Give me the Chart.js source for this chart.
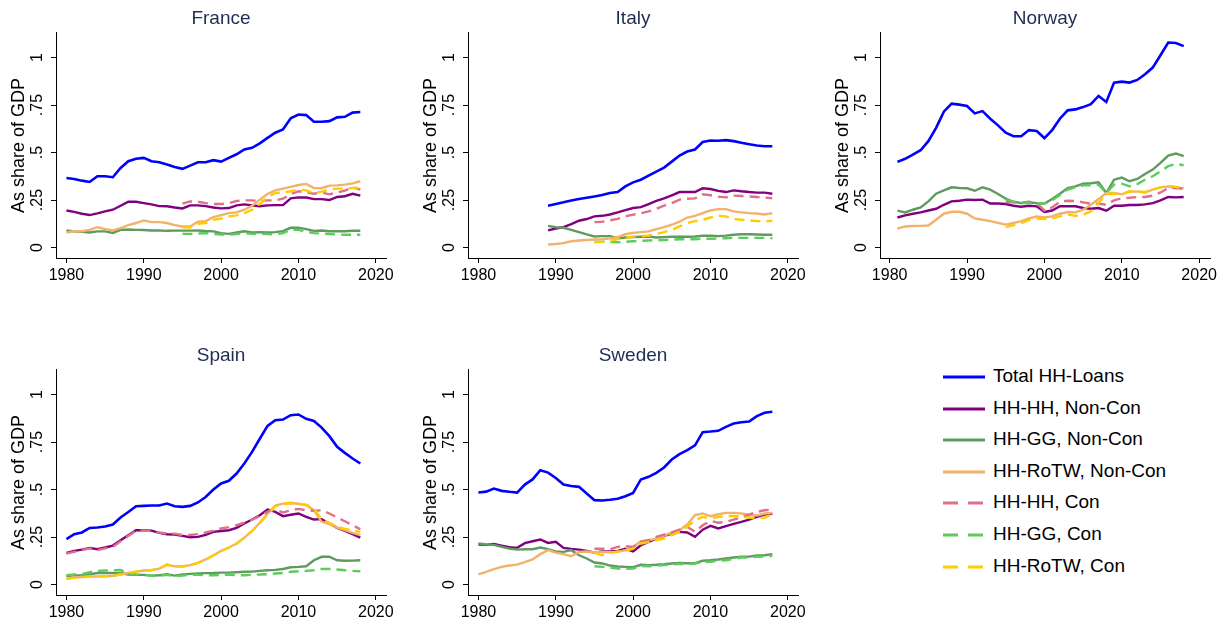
<!DOCTYPE html>
<html>
<head>
<meta charset="utf-8">
<script src="https://cdn.jsdelivr.net/npm/chart.js@4.4.1/dist/chart.umd.min.js"></script>
<style>
  body { margin: 0; background: #fff; width: 1228px; height: 623px; position: relative; overflow: hidden; font-family: "Liberation Sans", Arial, sans-serif; }
  canvas { position: absolute; }
  #legend { position: absolute; left: 943px; top: 361px; }
  .row { position: absolute; left: 0; height: 32px; width: 280px; }
  .row svg { position: absolute; left: 0; top: 13px; }
  .row span { position: absolute; left: 50px; top: 4px; font-size: 19px; color: #000; white-space: nowrap; }
</style>
</head>
<body>
<canvas id="franceChart" width="400" height="290" style="left:0px;top:0px"></canvas>
<canvas id="italyChart" width="400" height="290" style="left:412px;top:0px"></canvas>
<canvas id="norwayChart" width="400" height="290" style="left:824px;top:0px"></canvas>
<canvas id="spainChart" width="400" height="290" style="left:0px;top:337px"></canvas>
<canvas id="swedenChart" width="400" height="290" style="left:412px;top:337px"></canvas>
<div id="legend"></div>
<script>
// Anos
const years = [1980,1981,1982,1983,1984,1985,1986,1987,1988,1989,1990,1991,1992,1993,1994,1995,1996,1997,1998,1999,
  2000,2001,2002,2003,2004,2005,2006,2007,2008,2009,2010,2011,2012,2013,2014,2015,2016,2017,2018];
const yearsItaly = [1989,1990,1991,1992,1993,1994,1995,1996,1997,1998,1999,
  2000,2001,2002,2003,2004,2005,2006,2007,2008,2009,2010,2011,2012,2013,2014,2015,2016,2017,2018];
const yearsNorway = [1981,1982,1983,1984,1985,1986,1987,1988,1989,1990,1991,1992,1993,1994,1995,1996,1997,1998,1999,
  2000,2001,2002,2003,2004,2005,2006,2007,2008,2009,2010,2011,2012,2013,2014,2015,2016,2017,2018];
const yearsCon = [1995,1996,1997,1998,1999,2000,2001,2002,2003,2004,2005,2006,2007,2008,2009,
  2010,2011,2012,2013,2014,2015,2016,2017,2018];

const seriesNames = ['Total HH-Loans', 'HH-HH, Non-Con', 'HH-GG, Non-Con', 'HH-RoTW, Non-Con',
  'HH-HH, Con', 'HH-GG, Con', 'HH-RoTW, Con'];

const xTicks = [1980, 1990, 2000, 2010, 2020];
const yTicks = [0, 0.25, 0.5, 0.75, 1];
const yTickText = ['0', '.25', '.5', '.75', '1'];

// França
const franceTotal = [0.366,0.361,0.352,0.345,0.375,0.375,0.37,0.419,0.454,0.467, 0.472,0.454,0.449,0.437,0.424,0.414,0.431,0.449,0.449,0.46,
  0.452,0.472,0.491,0.516,0.525,0.548,0.577,0.604,0.621,0.68, 0.70,0.697,0.662,0.662,0.665,0.685,0.688,0.71,0.713];
const franceHHNon = [0.195,0.188,0.178,0.171,0.18,0.19,0.199,0.22,0.241,0.241, 0.234,0.227,0.218,0.217,0.211,0.206,0.222,0.222,0.218,0.211,
  0.206,0.208,0.222,0.227,0.222,0.217,0.222,0.223,0.223,0.259, 0.264,0.263,0.255,0.255,0.25,0.266,0.27,0.283,0.273];
const franceGGNon = [0.09,0.085,0.083,0.079,0.085,0.085,0.077,0.093,0.095,0.093, 0.092,0.09,0.09,0.088,0.089,0.089,0.089,0.09,0.087,0.085,
  0.076,0.072,0.079,0.086,0.079,0.081,0.079,0.081,0.086,0.104, 0.104,0.097,0.088,0.09,0.086,0.086,0.086,0.088,0.088];
const franceRoTWNon = [0.079,0.086,0.086,0.093,0.107,0.097,0.09,0.102,0.118,0.129, 0.143,0.134,0.134,0.129,0.118,0.111,0.111,0.136,0.139,0.16,
  0.171,0.181,0.185,0.199,0.22,0.252,0.282,0.301,0.31,0.319, 0.329,0.335,0.313,0.312,0.326,0.327,0.331,0.338,0.349];
const franceHHCon = [0.231,0.243,0.241,0.234,0.229, 0.229,0.234,0.245,0.248,0.248,0.245,0.248,0.248,0.257,0.282, 0.296,0.29,0.283,0.29,0.28,0.29,0.299,0.317,0.305];
const franceGGCon = [0.072,0.072,0.074,0.076,0.072, 0.069,0.067,0.071,0.076,0.072,0.072,0.071,0.069,0.076,0.093, 0.093,0.083,0.076,0.074,0.071,0.069,0.067,0.067,0.067];
const franceRoTWCon = [0.107,0.105,0.125,0.129,0.146, 0.153,0.164,0.169,0.181,0.199,0.229,0.264,0.287,0.29,0.296, 0.305,0.301,0.287,0.294,0.305,0.31,0.31,0.313,0.313];

// Itália
const italyTotal = [0.22, 0.229,0.238,0.248,0.255,0.262,0.269,0.276,0.287,0.292,0.322, 0.343,0.357,0.379,0.4,0.421,0.452,0.484,0.505,0.516,0.555,
  0.563,0.562,0.565,0.56,0.551,0.544,0.537,0.533,0.533];
const italyHHNon = [0.09, 0.1,0.107,0.123,0.141,0.15,0.164,0.167,0.174,0.185,0.197, 0.208,0.213,0.229,0.245,0.259,0.275,0.292,0.292,0.292,0.312,
  0.308,0.298,0.292,0.301,0.296,0.292,0.289,0.289,0.283];
const italyGGNon = [0.114, 0.107,0.104,0.093,0.081,0.069,0.058,0.06,0.06,0.049,0.053, 0.055,0.057,0.058,0.053,0.055,0.057,0.057,0.057,0.058,0.062,
  0.062,0.06,0.063,0.067,0.07,0.07,0.069,0.067,0.067];
const italyRoTWNon = [0.016, 0.019,0.023,0.033,0.037,0.04,0.042,0.044,0.048,0.055,0.07, 0.077,0.081,0.085,0.097,0.107,0.12,0.136,0.158,0.167,0.181,
  0.195,0.202,0.202,0.19,0.185,0.181,0.179,0.174,0.181];
const italyHHCon = [0.134,0.136,0.143,0.151,0.164, 0.173,0.18,0.19,0.204,0.22,0.234,0.252,0.257,0.259,0.28, 0.275,0.268,0.264,0.273,0.271,0.269,0.266,0.264,0.259];
const italyGGCon = [0.03,0.03,0.03,0.028,0.03, 0.033,0.035,0.037,0.038,0.04,0.041,0.044,0.044,0.044,0.046, 0.046,0.047,0.049,0.051,0.051,0.051,0.051,0.051,0.049];
const italyRoTWCon = [0.028,0.03,0.035,0.044,0.051, 0.058,0.06,0.063,0.072,0.081,0.093,0.111,0.129,0.139,0.146, 0.158,0.167,0.164,0.15,0.146,0.143,0.139,0.137,0.141];

// Noruega
const norwayTotal = [0.451,0.467,0.489,0.512,0.56,0.63,0.715,0.757,0.752, 0.745,0.706,0.718,0.678,0.643,0.604,0.586,0.586,0.618,0.613,
  0.576,0.618,0.678,0.722,0.727,0.739,0.754,0.798,0.766,0.868, 0.873,0.868,0.882,0.912,0.947,1.012,1.079,1.076,1.06];
const norwayHHNon = [0.158,0.169,0.178,0.185,0.195,0.204,0.225,0.243,0.246, 0.252,0.25,0.252,0.232,0.232,0.229,0.22,0.215,0.22,0.217,
  0.187,0.195,0.217,0.217,0.217,0.208,0.204,0.208,0.194,0.22, 0.22,0.224,0.224,0.227,0.234,0.248,0.266,0.264,0.266];
const norwayGGNon = [0.194,0.185,0.199,0.211,0.243,0.283,0.301,0.317,0.313, 0.312,0.299,0.317,0.305,0.282,0.257,0.241,0.234,0.238,0.234,
  0.231,0.255,0.283,0.313,0.322,0.336,0.338,0.343,0.287,0.357, 0.368,0.349,0.361,0.387,0.41,0.445,0.484,0.495,0.481];
const norwayRoTWNon = [0.1,0.111,0.113,0.114,0.116,0.146,0.178,0.188,0.188, 0.178,0.153,0.146,0.139,0.13,0.121,0.129,0.139,0.153,0.164,
  0.158,0.164,0.178,0.187,0.185,0.199,0.225,0.255,0.287,0.287, 0.28,0.296,0.294,0.29,0.305,0.317,0.322,0.313,0.312];
const norwayHHCon = [0.24,0.238,0.236,0.241,0.234, 0.195,0.211,0.241,0.246,0.245,0.238,0.231,0.231,0.225,0.248, 0.259,0.262,0.266,0.266,0.273,0.29,0.313,0.313,0.31];
const norwayGGCon = [0.252,0.241,0.234,0.234,0.231, 0.231,0.248,0.276,0.305,0.317,0.327,0.327,0.331,0.287,0.331, 0.336,0.322,0.334,0.357,0.375,0.401,0.428,0.44,0.433];
const norwayRoTWCon = [0.107,0.118,0.129,0.144,0.153, 0.15,0.153,0.164,0.174,0.167,0.173,0.19,0.234,0.283,0.283, 0.28,0.296,0.296,0.292,0.305,0.317,0.326,0.319,0.312];

// Espanha
const spainTotal = [0.239,0.265,0.274,0.298,0.3,0.305,0.316,0.353,0.382,0.412, 0.414,0.416,0.416,0.426,0.412,0.409,0.414,0.432,0.461,0.5,
  0.532,0.546,0.584,0.637,0.698,0.767,0.835,0.865,0.868,0.891, 0.895,0.872,0.861,0.826,0.781,0.725,0.693,0.663,0.637];
const spainHHNon = [0.167,0.177,0.184,0.193,0.186,0.195,0.205,0.233,0.26,0.286, 0.286,0.284,0.272,0.265,0.263,0.256,0.249,0.251,0.261,0.277,
  0.282,0.286,0.298,0.321,0.342,0.365,0.395,0.382,0.36,0.367, 0.374,0.356,0.342,0.344,0.321,0.298,0.282,0.265,0.247];
const spainGGNon = [0.044,0.047,0.049,0.054,0.061,0.061,0.061,0.061,0.053,0.051, 0.051,0.047,0.049,0.054,0.047,0.053,0.056,0.058,0.06,0.061,
  0.063,0.063,0.065,0.067,0.068,0.072,0.075,0.077,0.082,0.091, 0.093,0.096,0.128,0.146,0.147,0.128,0.125,0.126,0.128];
const spainRoTWNon = [0.032,0.037,0.04,0.042,0.042,0.044,0.046,0.053,0.061,0.068, 0.074,0.075,0.084,0.105,0.096,0.095,0.102,0.114,0.132,0.154,
  0.177,0.195,0.216,0.247,0.282,0.325,0.374,0.416,0.426,0.43, 0.425,0.418,0.391,0.33,0.318,0.3,0.286,0.272,0.26];
const spainHHCon = [0.163,0.172,0.181,0.19,0.181,0.19,0.198,0.228,0.256,0.282, 0.284,0.282,0.274,0.268,0.268,0.26,0.261,0.265,0.274,0.284,
  0.295,0.302,0.312,0.326,0.342,0.36,0.382,0.395,0.379,0.391, 0.398,0.391,0.388,0.391,0.374,0.353,0.333,0.312,0.291];
const spainGGCon = [0.049,0.053,0.054,0.065,0.072,0.074,0.075,0.077,0.058,0.053, 0.051,0.047,0.047,0.051,0.044,0.047,0.051,0.051,0.049,0.049,
  0.051,0.051,0.049,0.049,0.051,0.053,0.054,0.058,0.061,0.067, 0.07,0.072,0.075,0.082,0.082,0.079,0.075,0.072,0.07];
const spainRoTWCon = [0.03,0.035,0.039,0.042,0.043,0.044,0.046,0.053,0.06,0.068, 0.073,0.076,0.085,0.104,0.096,0.095,0.102,0.114,0.132,0.153,
  0.176,0.194,0.215,0.246,0.281,0.322,0.37,0.412,0.423,0.428, 0.424,0.42,0.4,0.342,0.325,0.304,0.293,0.286,0.277];

// Suécia
const swedenTotal = [0.484,0.489,0.505,0.493,0.488,0.484,0.526,0.553,0.602,0.589, 0.561,0.526,0.519,0.514,0.479,0.444,0.442,0.446,0.451,0.465,
  0.482,0.553,0.567,0.588,0.616,0.658,0.686,0.707,0.732,0.802, 0.805,0.809,0.83,0.847,0.854,0.858,0.886,0.904,0.909];
const swedenHHNon = [0.211,0.209,0.214,0.204,0.196,0.193,0.218,0.228,0.237,0.219, 0.225,0.193,0.188,0.184,0.177,0.168,0.174,0.174,0.177,0.188,
  0.175,0.207,0.225,0.242,0.256,0.268,0.277,0.274,0.251,0.289, 0.309,0.295,0.307,0.319,0.33,0.342,0.356,0.368,0.374];
const swedenGGNon = [0.216,0.211,0.209,0.198,0.189,0.184,0.186,0.186,0.195,0.186, 0.174,0.172,0.181,0.154,0.137,0.116,0.111,0.1,0.095,0.093,
  0.091,0.104,0.102,0.104,0.107,0.111,0.114,0.112,0.112,0.125, 0.128,0.132,0.137,0.142,0.147,0.147,0.153,0.154,0.16];
const swedenRoTWNon = [0.054,0.067,0.081,0.093,0.1,0.105,0.118,0.132,0.16,0.181, 0.168,0.16,0.149,0.172,0.174,0.17,0.172,0.17,0.172,0.181,
  0.198,0.228,0.233,0.242,0.258,0.274,0.286,0.316,0.365,0.374, 0.36,0.37,0.377,0.377,0.374,0.367,0.363,0.374,0.377];
const swedenHHCon = [0.188,0.189,0.186,0.198,0.202, 0.198,0.225,0.233,0.251,0.263,0.274,0.289,0.304,0.277,0.312, 0.335,0.325,0.33,0.342,0.353,0.368,0.382,0.391,0.395];
const swedenGGCon = [0.096,0.093,0.09,0.084,0.082, 0.084,0.098,0.096,0.1,0.102,0.105,0.109,0.107,0.111,0.118, 0.12,0.125,0.128,0.135,0.142,0.142,0.146,0.147,0.151];
const swedenRoTWCon = [0.167,0.154,0.167,0.174,0.177, 0.189,0.216,0.223,0.233,0.242,0.26,0.277,0.304,0.339,0.356, 0.347,0.356,0.36,0.361,0.356,0.353,0.347,0.353,0.368];

// Estilos
const fontFamily = '"Liberation Sans", Arial, sans-serif';
const titleColor = '#1e2d52';
const seriesColors = ['#0000ff', '#800080', '#5f9a5f', '#f2b26b', '#e0708a', '#5ccc5c', '#ffcc00'];
const seriesWidths = [2.6, 2.4, 2.4, 2.4, 2.4, 2.4, 2.4];
const seriesDashed = [false, false, false, false, true, true, true];

function pairUp(xs, ys) {
    return ys.map((v, i) => ({ x: xs[i], y: v }));
}

function buildDatasets(groups) {
    return groups.map((g, i) => ({
        label: seriesNames[i],
        data: pairUp(g[0], g[1]),
        borderColor: seriesColors[i],
        backgroundColor: seriesColors[i],
        borderWidth: seriesWidths[i],
        borderDash: seriesDashed[i] ? [10, 6] : [],
        pointRadius: 0,
        tension: 0,
        fill: false,
        order: 10 - i
    }));
}

// Rótulos do eixo y na vertical
const yTickLabels = {
    id: 'yTickLabels',
    afterDraw(chart) {
        const s = chart.scales.y;
        const ctx = chart.ctx;
        ctx.save();
        ctx.font = '16px ' + fontFamily;
        ctx.fillStyle = '#000';
        ctx.textAlign = 'center';
        ctx.textBaseline = 'alphabetic';
        yTicks.forEach((v, i) => {
            ctx.save();
            ctx.translate(chart.chartArea.left - 14, s.getPixelForValue(v));
            ctx.rotate(-Math.PI / 2);
            ctx.fillText(yTickText[i], 0, 0);
            ctx.restore();
        });
        ctx.restore();
    }
};

function makeOptions(title, xMin, xMax) {
    const axisGrid = { display: true, drawOnChartArea: false, drawTicks: true, tickLength: 5, color: '#000', lineWidth: 1 };
    return {
        responsive: false,
        animation: false,
        layout: { padding: { top: 7, right: 14, left: 0, bottom: 0 } },
        plugins: {
            legend: { display: false },
            tooltip: { enabled: false },
            title: { display: true, fullSize: false, text: title, color: titleColor, font: { family: fontFamily, size: 19, weight: 'normal' }, padding: { top: 0, bottom: 3 } }
        },
        scales: {
            x: {
                type: 'linear', min: xMin, max: xMax,
                afterBuildTicks: s => { s.ticks = xTicks.map(v => ({ value: v })); },
                afterFit: s => { s.height = 32; },
                grid: axisGrid,
                border: { display: true, color: '#000', width: 1 },
                ticks: { color: '#000', font: { family: fontFamily, size: 16 }, padding: 3, maxRotation: 0, callback: v => String(v) }
            },
            y: {
                type: 'linear', min: -0.055, max: 1.13,
                afterBuildTicks: s => { s.ticks = yTicks.map(v => ({ value: v })); },
                afterFit: s => { s.width = 56; },
                grid: axisGrid,
                border: { display: true, color: '#000', width: 1 },
                ticks: { display: false },
                title: { display: true, text: 'As share of GDP', color: '#000', font: { family: fontFamily, size: 18 }, padding: { top: 8, bottom: 0 } }
            }
        }
    };
}

// Criando os gráficos
new Chart(document.getElementById('franceChart').getContext('2d'), {
    type: 'line',
    data: { datasets: buildDatasets([
        [years, franceTotal], [years, franceHHNon], [years, franceGGNon], [years, franceRoTWNon],
        [yearsCon, franceHHCon], [yearsCon, franceGGCon], [yearsCon, franceRoTWCon]]) },
    options: makeOptions('France', 1978.65, 2021.32),
    plugins: [yTickLabels]
});

new Chart(document.getElementById('italyChart').getContext('2d'), {
    type: 'line',
    data: { datasets: buildDatasets([
        [yearsItaly, italyTotal], [yearsItaly, italyHHNon], [yearsItaly, italyGGNon], [yearsItaly, italyRoTWNon],
        [yearsCon, italyHHCon], [yearsCon, italyGGCon], [yearsCon, italyRoTWCon]]) },
    options: makeOptions('Italy', 1978.65, 2021.32),
    plugins: [yTickLabels]
});

new Chart(document.getElementById('norwayChart').getContext('2d'), {
    type: 'line',
    data: { datasets: buildDatasets([
        [yearsNorway, norwayTotal], [yearsNorway, norwayHHNon], [yearsNorway, norwayGGNon], [yearsNorway, norwayRoTWNon],
        [yearsCon, norwayHHCon], [yearsCon, norwayGGCon], [yearsCon, norwayRoTWCon]]) },
    options: makeOptions('Norway', 1978.75, 2021.4),
    plugins: [yTickLabels]
});

new Chart(document.getElementById('spainChart').getContext('2d'), {
    type: 'line',
    data: { datasets: buildDatasets([
        [years, spainTotal], [years, spainHHNon], [years, spainGGNon], [years, spainRoTWNon],
        [years, spainHHCon], [years, spainGGCon], [years, spainRoTWCon]]) },
    options: makeOptions('Spain', 1978.65, 2021.32),
    plugins: [yTickLabels]
});

new Chart(document.getElementById('swedenChart').getContext('2d'), {
    type: 'line',
    data: { datasets: buildDatasets([
        [years, swedenTotal], [years, swedenHHNon], [years, swedenGGNon], [years, swedenRoTWNon],
        [yearsCon, swedenHHCon], [yearsCon, swedenGGCon], [yearsCon, swedenRoTWCon]]) },
    options: makeOptions('Sweden', 1978.65, 2021.32),
    plugins: [yTickLabels]
});

// Legenda
const legendBox = document.getElementById('legend');
seriesNames.forEach((name, i) => {
    const row = document.createElement('div');
    row.className = 'row';
    row.style.top = (i * 31.6) + 'px';
    const dash = seriesDashed[i] ? ' stroke-dasharray="15 10"' : '';
    row.innerHTML = '<svg width="42" height="6"><line x1="0" y1="3" x2="42" y2="3" stroke="' + seriesColors[i] +
        '" stroke-width="3"' + dash + '/></svg><span>' + name + '</span>';
    legendBox.appendChild(row);
});
</script>
</body>
</html>
